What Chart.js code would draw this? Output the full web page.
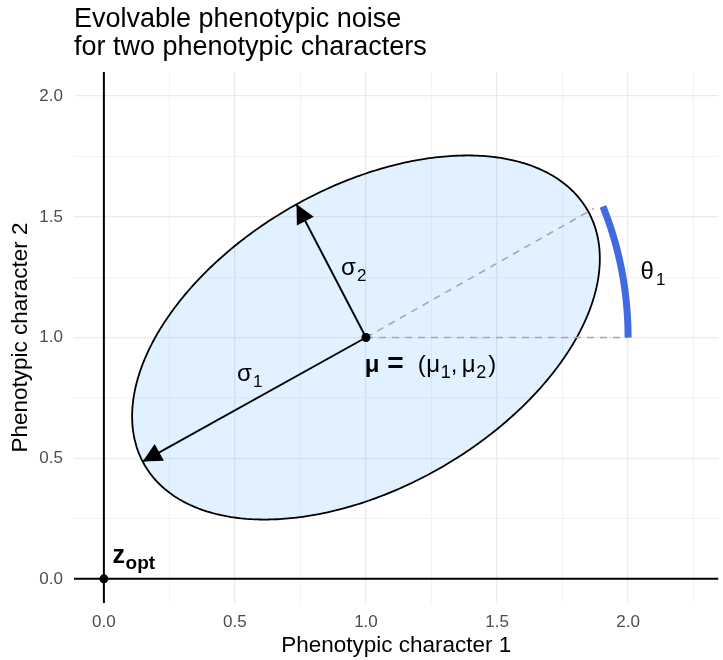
<!DOCTYPE html>
<html>
<head>
<meta charset="utf-8">
<script src="https://cdn.jsdelivr.net/npm/chart.js@4.4.1/dist/chart.umd.min.js"></script>
<style>
  html, body { margin: 0; padding: 0; background: #fff; }
</style>
</head>
<body>
<canvas id="chart" width="723" height="660"></canvas>
<script>
const FONT = '"Liberation Sans", Arial, Helvetica, sans-serif';

// axes
const xRange = [-0.114, 2.345];
const yRange = [-0.1, 2.1];
const xGrid = [0, 0.25, 0.5, 0.75, 1, 1.25, 1.5, 1.75, 2, 2.25];
const yGrid = [0, 0.25, 0.5, 0.75, 1, 1.25, 1.5, 1.75, 2];
const majorTicks = [0, 0.5, 1, 1.5, 2];
const tickLabels = ['0.0', '0.5', '1.0', '1.5', '2.0'];

// noise ellipse: mean and the tips of the two sigma arrows (conjugate semi-axes)
const mu = [1.0, 1.0];
const sigma1Tip = [0.148, 0.486];
const sigma2Tip = [0.735, 1.552];

// theta_1 construction
const thetaRayEnd = [1.87, 1.535];
const thetaBaseEnd = [2.0, 1.0];
const thetaArcRadius = [1.0, 1.27];
const thetaArcEndDeg = 25.3;

const zOpt = [0, 0];

// text annotations in data units; each part: [text, style, x offset px, font size]
// style: b = bold, s = subscript
const notes = [
  { parts: [['σ', '', 0, 24], ['1', 's', 16, 17]], at: [0.508, 0.82] },
  { parts: [['σ', '', 0, 24], ['2', 's', 16, 17]], at: [0.905, 1.26] },
  { parts: [['θ', '', 0, 24], ['1', 's', 15.5, 17]], at: [2.047, 1.242] },
  { parts: [['μ', 'b', 0, 24], ['=', 'b', 22.5, 28], ['(', '', 53, 24], ['μ', '', 61.5, 24], ['1', 's', 76, 18],
            [',', '', 86, 24], ['μ', '', 97, 24], ['2', 's', 111.5, 18], [')', '', 123.5, 24]], at: [0.995, 0.859] },
  { parts: [['z', 'b', 0, 25], ['opt', 'bs', 13, 19]], at: [0.033, 0.065] }
];

const titleLines = ['Evolvable phenotypic noise', 'for two phenotypic characters'];

function ellipsePoints(n) {
  const pts = [];
  for (let i = 0; i <= n; i++) {
    const t = 2 * Math.PI * i / n;
    pts.push({
      x: mu[0] + Math.cos(t) * (sigma1Tip[0] - mu[0]) + Math.sin(t) * (sigma2Tip[0] - mu[0]),
      y: mu[1] + Math.cos(t) * (sigma1Tip[1] - mu[1]) + Math.sin(t) * (sigma2Tip[1] - mu[1])
    });
  }
  return pts;
}

function arcPoints(n) {
  const pts = [];
  const end = thetaArcEndDeg * Math.PI / 180;
  for (let i = 0; i <= n; i++) {
    const t = end * i / n;
    pts.push({ x: mu[0] + thetaArcRadius[0] * Math.cos(t), y: mu[1] + thetaArcRadius[1] * Math.sin(t) });
  }
  return pts;
}

const pt = a => ({ x: a[0], y: a[1] });
const isMajor = v => majorTicks.some(m => Math.abs(m - v) < 1e-9);

const arrowHeads = {
  id: 'arrowHeads',
  afterDatasetsDraw(chart) {
    const ctx = chart.ctx;
    chart.data.datasets.forEach((ds, i) => {
      if (!ds.arrow) return;
      const pts = chart.getDatasetMeta(i).data;
      const a = pts[0], b = pts[pts.length - 1];
      const len = Math.hypot(b.x - a.x, b.y - a.y);
      const ux = (b.x - a.x) / len, uy = (b.y - a.y) / len;
      const L = 19, W = 9.5;
      ctx.save();
      ctx.fillStyle = '#000';
      ctx.beginPath();
      ctx.moveTo(b.x, b.y);
      ctx.lineTo(b.x - ux * L - uy * W, b.y - uy * L + ux * W);
      ctx.lineTo(b.x - ux * L + uy * W, b.y - uy * L - ux * W);
      ctx.closePath();
      ctx.fill();
      ctx.restore();
    });
  }
};

const annotations = {
  id: 'annotations',
  afterDatasetsDraw(chart) {
    const ctx = chart.ctx;
    const xs = chart.scales.x, ys = chart.scales.y;
    ctx.save();
    ctx.fillStyle = '#000';
    ctx.textBaseline = 'alphabetic';
    ctx.textAlign = 'left';
    notes.forEach(n => {
      const x0 = xs.getPixelForValue(n.at[0]);
      const y0 = ys.getPixelForValue(n.at[1]);
      n.parts.forEach(([t, st, dx, size]) => {
        ctx.font = (st.includes('b') ? 'bold ' : '') + size + 'px ' + FONT;
        ctx.fillText(t, x0 + dx, y0 + (st.includes('s') ? 6 : 0));
      });
    });
    ctx.restore();
  },
  afterDraw(chart) {
    const ctx = chart.ctx;
    ctx.save();
    ctx.fillStyle = '#000';
    ctx.font = '27px ' + FONT;
    ctx.textBaseline = 'alphabetic';
    ctx.textAlign = 'left';
    ctx.fillText(titleLines[0], 74, 27);
    ctx.fillText(titleLines[1], 74, 55);
    ctx.restore();
  }
};

function axisOptions(range, grid, title, isX) {
  return {
    type: 'linear',
    min: range[0],
    max: range[1],
    afterBuildTicks: s => { s.ticks = grid.map(v => ({ value: v })); },
    afterFit: s => { if (isX) s.height = 57; else s.width = 74; },
    border: { display: false },
    grid: {
      drawTicks: false,
      color: c => isMajor(c.tick.value) ? '#ebebeb' : '#f2f2f2',
      lineWidth: c => isMajor(c.tick.value) ? 1.3 : 0.9
    },
    ticks: {
      autoSkip: false,
      maxRotation: 0,
      padding: isX ? 9 : 11,
      color: '#4d4d4d',
      font: { family: FONT, size: 17 },
      callback: v => {
        const k = majorTicks.findIndex(m => Math.abs(m - v) < 1e-9);
        return k >= 0 ? tickLabels[k] : '';
      }
    },
    title: {
      display: true,
      text: title,
      color: '#000',
      font: { family: FONT, size: 22.5 },
      padding: isX ? { top: 0, bottom: 1 } : { top: 7, bottom: 0 }
    }
  };
}

// tiny tension keeps Chart.js off its pixel-collapsing fast path for curved outlines
const line = (data, color, width, extra) => Object.assign({
  type: 'line', data, borderColor: color, borderWidth: width,
  pointRadius: 0, pointHoverRadius: 0, fill: false, tension: 0, showLine: true
}, extra || {});

new Chart(document.getElementById('chart'), {
  type: 'scatter',
  data: {
    datasets: [
      { type: 'scatter', label: 'points', data: [pt(mu), pt(zOpt)], pointRadius: 4.5,
        backgroundColor: '#000', borderColor: '#000', borderWidth: 0, order: 0 },
      line([pt(mu), pt(sigma1Tip)], '#000', 1.9, { label: 'sigma1', arrow: true, order: 1 }),
      line([pt(mu), pt(sigma2Tip)], '#000', 1.9, { label: 'sigma2', arrow: true, order: 1 }),
      line(arcPoints(60), '#4169e1', 7, { label: 'theta arc', borderCapStyle: 'butt', tension: 0.0001, order: 2 }),
      line([pt(mu), pt(thetaRayEnd)], '#a8a8a8', 1.6, { label: 'ray', borderDash: [7, 6], order: 3 }),
      line([pt(mu), pt(thetaBaseEnd)], '#a8a8a8', 1.6, { label: 'base', borderDash: [7, 6], order: 3 }),
      line(ellipsePoints(240), '#000', 1.8, { label: 'ellipse', fill: 'shape', tension: 0.0001,
        backgroundColor: 'rgba(30, 144, 255, 0.13)', order: 4 }),
      line([{ x: xRange[0], y: 0 }, { x: xRange[1], y: 0 }], '#000', 2, { label: 'h0', order: 5 }),
      line([{ x: 0, y: yRange[0] }, { x: 0, y: yRange[1] }], '#000', 2, { label: 'v0', order: 5 })
    ]
  },
  options: {
    responsive: false,
    animation: false,
    devicePixelRatio: 1,
    layout: { padding: { top: 72, left: 0, right: 0, bottom: 0 } },
    plugins: { legend: { display: false }, tooltip: { enabled: false } },
    scales: {
      x: axisOptions(xRange, xGrid, 'Phenotypic character 1', true),
      y: axisOptions(yRange, yGrid, 'Phenotypic character 2', false)
    }
  },
  plugins: [arrowHeads, annotations]
});
</script>
</body>
</html>
